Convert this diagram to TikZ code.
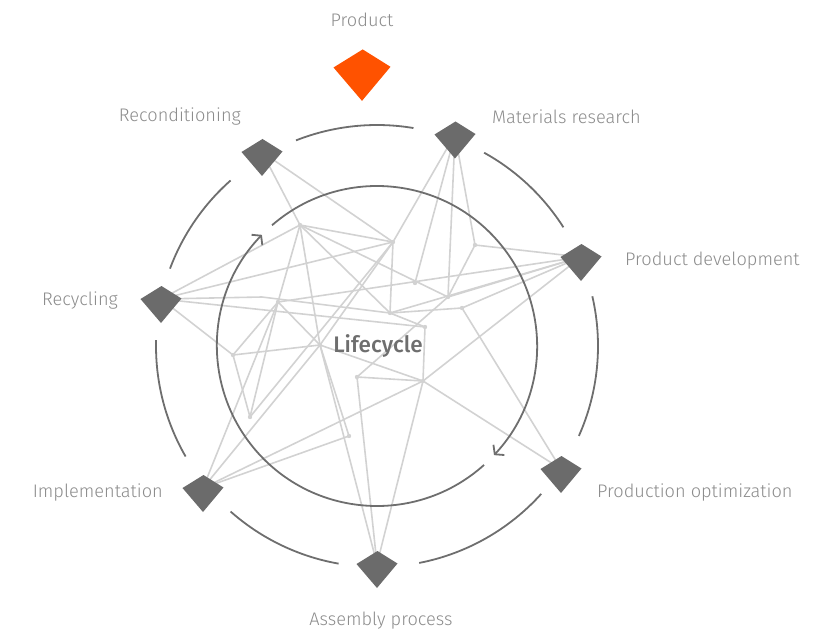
\documentclass[tikz,border=0pt]{standalone}
\usepackage{fontspec}
\setmainfont{Fira Sans Light}
\newfontfamily\lifefont{Fira Sans Medium}
\usetikzlibrary{arrows.meta}

\definecolor{webgray}{HTML}{D2D2D2}
\definecolor{ringgray}{HTML}{6E6E6E}
\definecolor{textgray}{HTML}{8C8C8C}
\definecolor{kitegray}{HTML}{6B6B6B}
\definecolor{prodorange}{HTML}{FF5200}

\tikzset{
  web/.style={draw=webgray, line width=1.6},
  ring/.style={draw=ringgray, line width=1.8},
  lbl/.style={text=textgray, font=\fontsize{18.2}{21}\selectfont, inner sep=0},
  kite/.pic={\path[pic actions] (-20.5,0) -- (0.5,13) -- (20.5,0.5) -- (0,-24) -- cycle;},
}

\begin{document}
\begin{tikzpicture}[x=1pt, y=1pt]

\useasboundingbox (-377,-286) rectangle (457,346);

% kites on the ring
\coordinate (prod) at (-15,278.5);
\coordinate (rc)   at (-115,194);
\coordinate (mr)   at (78,211.5);
\coordinate (pd)   at (204,89);
\coordinate (po)   at (184,-123);
\coordinate (as)   at (0,-218);
\coordinate (im)   at (-174,-142);
\coordinate (rec)  at (-216,47);

% inner points of the web
\coordinate (a) at (-77,121);
\coordinate (b) at (16,104);
\coordinate (c) at (98,101);
\coordinate (d) at (71,49);
\coordinate (e) at (85,38);
\coordinate (f) at (13,33);
\coordinate (g) at (48,19);
\coordinate (h) at (-99,44);
\coordinate (i) at (-115,49);
\coordinate (j) at (-57,1);
\coordinate (k) at (-144,-9);
\coordinate (l) at (-20,-31);
\coordinate (m) at (46,-35);
\coordinate (n) at (-127,-71);
\coordinate (o) at (-28,-90);
\coordinate (q) at (38,63);

\foreach \u/\v in {rc/a, rc/b, rec/a, rec/b, rec/i, rec/g, rec/k, i/f, f/e,
                   a/b, a/h, a/j, a/f, a/d, b/mr, b/f, b/j, b/n, mr/q, mr/d, mr/c,
                   c/pd, c/d, pd/d, pd/e, pd/h, pd/m, pd/f, e/po, m/po,
                   m/as, j/as, l/as, m/im, h/im, j/im, o/im, l/m, l/d, g/m,
                   f/g, j/m, h/j, h/k, h/n, k/j, k/n, o/j}{
	\draw[web] (\u)--(\v);
}

\foreach \p in {a,b,c,d,e,f,g,h,j,k,l,m,n,o,q}{
	\fill[webgray] (\p) circle (2.2);
}

% outer ring
\foreach \s/\e in {111.5/80.5, 61/32.5, 13/-24, -42/-79, -100/-131.5, -150/-181.5, -200.5/-228.5}{
	\draw[ring] (\s:221) arc[start angle=\s, end angle=\e, radius=221];
}

% inner ring with arrows
\draw[ring, -{Straight Barb[length=6pt, width=15pt]}] (131:160) arc[start angle=131, end angle=-43, radius=160];
\draw[ring, -{Straight Barb[length=6pt, width=15pt]}] (-48:160) arc[start angle=-48, end angle=-224, radius=160];

\foreach \p in {rc,mr,pd,po,as,im,rec}{
	\pic[fill=kitegray] at (\p) {kite};
}
\pic[fill=prodorange, scale=1.39] at (prod) {kite};

\node[lbl] (tprod) at (-15,326) {Product};
\node[lbl, anchor=west] (tmr) at (115,229) {Materials research};
\node[lbl, anchor=west] (tpd) at (248,85) {Product development};
\node[lbl, anchor=west] (tpo) at (220,-147) {Production optimization};
\node[lbl] (tas) at (4,-275) {Assembly process};
\node[lbl, anchor=east] (tim) at (-214,-147) {Implementation};
\node[lbl, anchor=east] (trec) at (-259,45) {Recycling};
\node[lbl, anchor=east] (trc) at (-136,229) {Reconditioning};
\node[text=ringgray, font=\lifefont\fontsize{22.5}{26}\selectfont, inner sep=0] (life) at (1,0) {Lifecycle};

\end{tikzpicture}
\end{document}
